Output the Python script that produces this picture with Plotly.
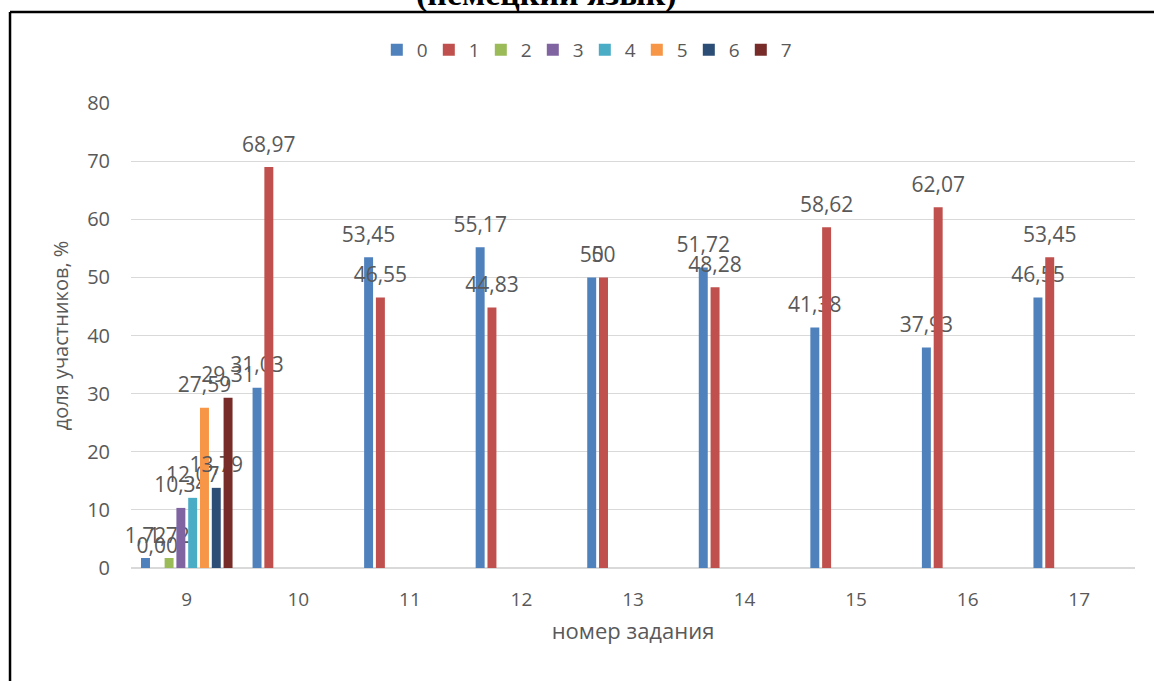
import plotly.graph_objects as go

categories = ["9", "10", "11", "12", "13", "14", "15", "16", "17"]
series_names = ["0", "1", "2", "3", "4", "5", "6", "7"]

s0 = [1.72, 31.03, 53.45, 55.17, 50, 51.72, 41.38, 37.93, 46.55]
s1 = [0.00, 68.97, 46.55, 44.83, 50, 48.28, 58.62, 62.07, 53.45]
s2 = [1.72, None, None, None, None, None, None, None, None]
s3 = [10.34, None, None, None, None, None, None, None, None]
s4 = [12.07, None, None, None, None, None, None, None, None]
s5 = [27.59, None, None, None, None, None, None, None, None]
s6 = [13.79, None, None, None, None, None, None, None, None]
s7 = [29.31, None, None, None, None, None, None, None, None]
series_values = [s0, s1, s2, s3, s4, s5, s6, s7]

colors = ["#4F81BD", "#C0504D", "#9BBB59", "#8064A2", "#4BACC6", "#F79646", "#2C4D75", "#772C2A"]

y_ticks = [0, 10, 20, 30, 40, 50, 60, 70, 80]

title_text = "(немецкий язык)"
x_title = "номер задания"
y_title = "доля участников, %"

FONT = "Open Sans"
GREY = "#595959"


def fmt(v):
    if v is None:
        return ""
    if v == int(v) and v != 0:
        return str(int(v))
    return f"{v:.2f}".replace(".", ",")


fig = go.Figure()
for name, vals, col in zip(series_names, series_values, colors):
    labels = [
        "" if v is None else f"<span style='font-size:21px'>{fmt(v)}</span><br>&nbsp;"
        for v in vals
    ]
    fig.add_trace(go.Bar(
        x=categories, y=vals, name=name,
        marker=dict(color=col, line=dict(width=0)),
        text=labels, textposition="outside", textangle=0,
        constraintext="none", cliponaxis=False,
        textfont=dict(family=FONT, size=8, color=GREY),
        hoverinfo="skip",
    ))

fig.update_layout(
    width=1154, height=681,
    margin=dict(l=131, r=19, t=103, b=113),
    paper_bgcolor="white", plot_bgcolor="white",
    barmode="group", bargap=0.154, bargroupgap=0.24,
    font=dict(family=FONT, color=GREY, size=19),
    showlegend=True,
    legend=dict(
        orientation="h", x=0.452, xanchor="center", y=1.114, yanchor="middle",
        font=dict(family=FONT, size=19, color=GREY),
        itemwidth=30, entrywidth=7, traceorder="normal",
    ),
    xaxis=dict(
        type="category", showgrid=False, ticks="", showline=False,
        tickfont=dict(family=FONT, size=19, color=GREY),
        ticklabelstandoff=18,
        title=dict(text=x_title, font=dict(family=FONT, size=22, color=GREY), standoff=12),
    ),
    yaxis=dict(
        range=[0, 80], tickvals=y_ticks, showgrid=True, gridcolor="#D9D9D9", gridwidth=1,
        zeroline=True, zerolinecolor="#D9D9D9", zerolinewidth=1.5,
        ticks="", showline=False,
        tickfont=dict(family=FONT, size=20, color=GREY),
        ticklabelstandoff=20,
        title=dict(text=y_title, font=dict(family=FONT, size=20, color=GREY), standoff=13),
    ),
    shapes=[
        dict(type="line", xref="paper", yref="paper", x0=-0.1205, x1=1.03, y0=1.1957, y1=1.1957,
             line=dict(color="black", width=2.5)),
        dict(type="line", xref="paper", yref="paper", x0=-0.1205, x1=-0.1205, y0=1.1957, y1=-0.25,
             line=dict(color="black", width=2.5)),
    ],
    annotations=[
        dict(text=f"<b>{title_text}</b>", xref="paper", yref="paper", x=0.4143, y=1.2344,
             xanchor="center", yanchor="middle", showarrow=False,
             font=dict(family="Liberation Serif", size=34, color="black")),
    ],
)

fig.write_html(
    "out.html",
    config={"displayModeBar": False},
    post_script="document.body.style.margin='0px';document.body.style.padding='0px';",
)
